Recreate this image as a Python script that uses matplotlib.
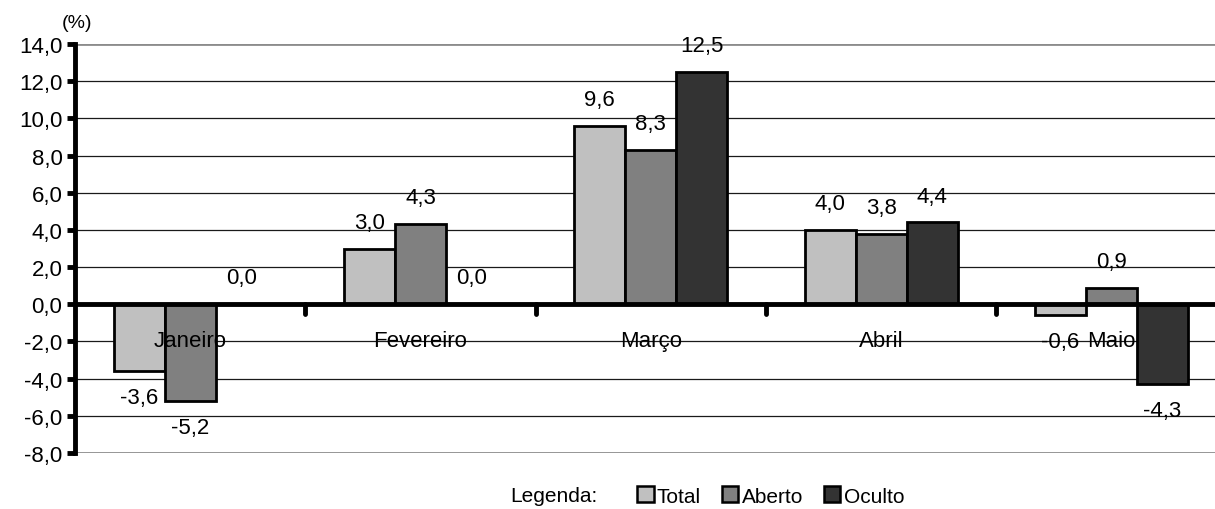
import matplotlib
matplotlib.use("Agg")
import matplotlib.pyplot as plt
from matplotlib.patches import Patch
import numpy as np

plt.rcParams['font.family'] = ['Liberation Sans', 'DejaVu Sans']

months = ["Janeiro", "Fevereiro", "Março", "Abril", "Maio"]
series_names = ["Total", "Aberto", "Oculto"]
total = [-3.6, 3.0, 9.6, 4.0, -0.6]
aberto = [-5.2, 4.3, 8.3, 3.8, 0.9]
oculto = [0.0, 0.0, 12.5, 4.4, -4.3]
y_ticks = [-8, -6, -4, -2, 0, 2, 4, 6, 8, 10, 12, 14]

colors = ["#C0C0C0", "#808080", "#333333"]
FS = 16

fig = plt.figure(figsize=(12.15, 5.10), dpi=100)
ax = fig.add_axes([75 / 1215, 1 - 454 / 510, 1 - 75 / 1215, (454 - 45) / 510])

x = np.arange(len(months))
width = 0.2215
offsets = [-width, 0.0, width]

for vals, off, col in zip([total, aberto, oculto], offsets, colors):
    ax.bar(x + off, vals, width=width, color=col, edgecolor="black",
           linewidth=2, zorder=3)
    for xi, v in zip(x, vals):
        label = f"{v:.1f}".replace(".", ",")
        dy = 19 if v >= 0 else -19
        ax.annotate(label, (xi + off, v), xytext=(0, dy),
                    textcoords="offset points", ha="center", va="center",
                    fontsize=FS, zorder=5)

# Month names written inside the plot, just below the zero line
for xi, name in zip(x, months):
    ax.text(xi, -1.95, name, ha="center", va="center", fontsize=FS, zorder=6)

ax.set_ylim(-8, 14)
ax.set_xlim(-0.5, 4.45)
ax.set_yticks(y_ticks)
ax.set_yticklabels([f"{t:.1f}".replace(".", ",") for t in y_ticks], fontsize=FS)
ax.tick_params(axis="y", length=6, width=3.5, pad=3)

# Horizontal grid
for t in y_ticks:
    if t in (-8, 14):
        ax.axhline(t, color="#8C8C8C", lw=2, zorder=1)
    elif t != 0:
        ax.axhline(t, color="#1A1A1A", lw=0.9, zorder=1)
ax.axhline(0, color="black", lw=3.5, zorder=4)

# Category separators hanging below the zero line
ax.set_xticks([])
for b in np.arange(0.5, len(months) - 0.5, 1.0):
    ax.plot([b, b], [0, -0.55], color="black", lw=3.5, solid_capstyle="round", zorder=4)

for side in ("top", "right", "bottom"):
    ax.spines[side].set_visible(False)
ax.spines["left"].set_linewidth(3.5)

fig.text(77 / 1215, 1 - 23 / 510, "(%)", ha="center", va="center", fontsize=14)

fig.text(510 / 1215, 1 - 497 / 510, "Legenda:", ha="left", va="center", fontsize=15)
handles = [Patch(facecolor=c, edgecolor="black", linewidth=1.8) for c in colors]
fig.legend(handles, series_names, loc="center left",
           bbox_to_anchor=(637 / 1215, 1 - 497 / 510), ncol=3, frameon=False,
           fontsize=15, handlelength=0.8, handleheight=0.8, handletextpad=0.15,
           columnspacing=1.0, borderaxespad=0, borderpad=0)

fig.savefig("out.png", dpi=100)
